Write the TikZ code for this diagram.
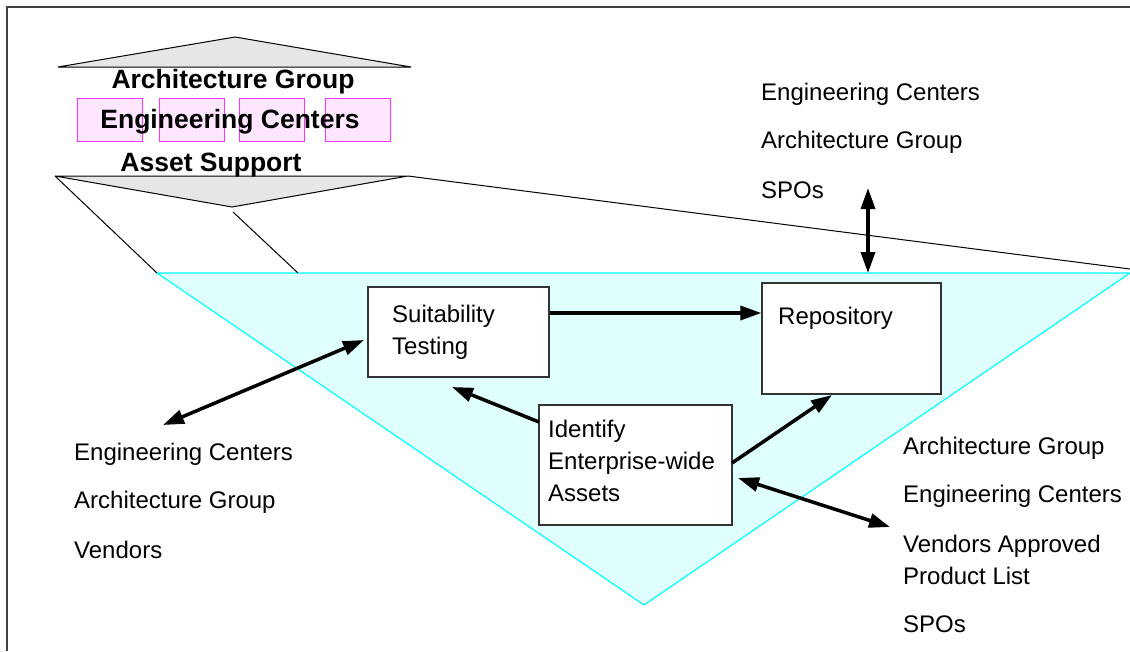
\documentclass[tikz,border=0pt]{standalone}
\usepackage{fontspec}
\setmainfont{Liberation Sans}
\usetikzlibrary{arrows.meta}
\definecolor{pinkfill}{HTML}{FFE6FF}
\definecolor{pinkline}{HTML}{FF33FF}
\definecolor{grayfill}{HTML}{E6E6E6}
\definecolor{cyanfill}{HTML}{E0FFFF}
\definecolor{cyanline}{HTML}{00FFFF}
\begin{document}
\begin{tikzpicture}[x=1pt,y=-1pt,
  lbl/.style={anchor=west, inner sep=0pt, align=left, font=\fontsize{24}{32}\selectfont},
  ttl/.style={inner sep=0pt, font=\fontsize{26.5}{30}\selectfont\bfseries},
  box/.style={draw=black!80, fill=white, line width=1.2pt, inner sep=0pt},
  pbox/.style={draw=pinkline, fill=pinkfill, line width=1pt, inner sep=0pt, minimum width=65pt, minimum height=43pt},
  tri/.style={draw=black, fill=grayfill, line width=1pt},
  funnel/.style={draw=black, line width=1pt},
  conn/.style={line width=3.5pt, -{Triangle[length=21pt,width=14pt]}},
  dconn/.style={line width=3.5pt, {Triangle[length=21pt,width=14pt]}-{Triangle[length=21pt,width=14pt]}}]
\useasboundingbox (0,0) rectangle (1130,651);
% frame
\draw[line width=1.2pt, draw=black!75] (7,651) -- (7,7) -- (1130,7);
% cyan funnel
\fill[cyanfill] (157,273) -- (1130,273) -- (644,605) -- cycle;
\draw[cyanline, line width=1.2pt] (157,273) -- (1130,273) -- (644,605) -- cycle;
% funnel lines
\draw[funnel] (55,176) -- (157,273);
\draw[funnel] (233,212) -- (298,273);
\draw[funnel] (408,176) -- (1130,269);
% grey triangles
\draw[tri] (58,67) -- (235,37) -- (411,67) -- cycle;
\draw[tri] (55,176) -- (408,176) -- (232,207) -- cycle;
% pink boxes
\node[pbox] (p1) at (109.5,119.5) {};
\node[pbox] (p2) at (192,119.5) {};
\node[pbox] (p3) at (272,119.5) {};
\node[pbox] (p4) at (357.5,119.5) {};
\node[ttl] (tag) at (233,82) {Architecture Group};
\node[ttl] (tec) at (230,122) {Engineering Centers};
\node[ttl] (tas) at (211,165) {Asset Support};
% boxes
\node[box, minimum width=181pt, minimum height=90pt] (suit) at (458.5,332) {};
\node[lbl] (suittxt) at (392,332.5) {Suitability\\Testing};
\node[box, minimum width=179pt, minimum height=111pt] (repo) at (851.5,338.5) {};
\node[lbl] (repotxt) at (778,318) {Repository};
\node[box, minimum width=193pt, minimum height=120pt] (ident) at (635.5,465) {};
\node[lbl] (identtxt) at (548,461) {Identify\\Enterprise-wide\\Assets};
% labels top right
\node[lbl] (tr1) at (761,94) {Engineering Centers};
\node[lbl] (tr2) at (761,142) {Architecture Group};
\node[lbl] (tr3) at (761,190) {SPOs};
% labels left
\node[lbl] (l1) at (74,454) {Engineering Centers};
\node[lbl] (l2) at (74,502) {Architecture Group};
\node[lbl] (l3) at (74,550) {Vendors};
% labels right
\node[lbl] (r1) at (903,448) {Architecture Group};
\node[lbl] (r2) at (903,496) {Engineering Centers};
\node[lbl] (r3) at (903,560) {Vendors Approved\\Product List};
\node[lbl] (r4) at (903,624) {SPOs};
% connector end points
\coordinate (vtop) at (868,188);
\coordinate (vbot) at (868,273);
\coordinate (lend) at (163,425);
\coordinate (suitin) at (364,340);
\coordinate (suitlow) at (452,387);
\coordinate (identl) at (539,422);
\coordinate (identr) at (732,463);
\coordinate (repolow) at (832,395);
\coordinate (identin) at (738,478);
\coordinate (rend) at (890,527);
% connectors
\draw[conn] (suit.east |- 0,313) -- (repo.west |- 0,313);
\draw[dconn] (vtop) -- (vbot);
\draw[dconn] (lend) -- (suitin);
\draw[conn] (identl) -- (suitlow);
\draw[conn] (identr) -- (repolow);
\draw[dconn] (identin) -- (rend);
\end{tikzpicture}
\end{document}
